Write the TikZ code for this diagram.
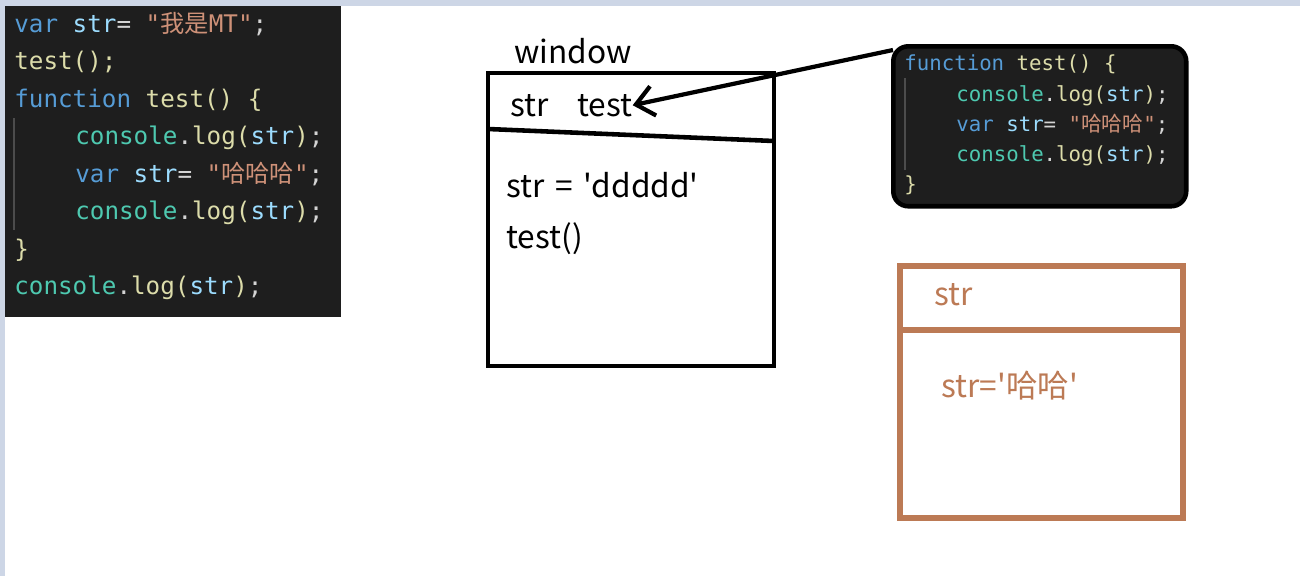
\documentclass[tikz,border=0pt]{standalone}
\usepackage{fontspec}
\setmainfont{Noto Sans CJK SC}
\newfontfamily\codefont{DejaVu Sans Mono}
\newfontfamily\cjk{Noto Sans CJK SC}
\usetikzlibrary{arrows.meta}

\definecolor{codebg}{HTML}{1E1E1E}
\definecolor{kwblue}{HTML}{569CD6}
\definecolor{varblue}{HTML}{9CDCFE}
\definecolor{strred}{HTML}{CE9178}
\definecolor{fnyellow}{HTML}{DCDCAA}
\definecolor{clsteal}{HTML}{4EC9B0}
\definecolor{punct}{HTML}{D4D4D4}
\definecolor{scopebrown}{RGB}{188,122,85}
\definecolor{frameblue}{RGB}{205,214,230}

% colours of the code
\newcommand{\kw}[1]{\textcolor{kwblue}{#1}}
\newcommand{\vb}[1]{\textcolor{varblue}{#1}}
\newcommand{\st}[1]{\textcolor{strred}{#1}}
\newcommand{\fy}[1]{\textcolor{fnyellow}{#1}}
\newcommand{\cl}[1]{\textcolor{clsteal}{#1}}

\tikzset{
  code/.style={anchor=base west, inner sep=0pt, text=punct,
    font=\codefont\fontsize{13.8}{16}\selectfont},
  codesm/.style={code, font=\codefont\fontsize{11.8}{14}\selectfont},
  txt/.style={anchor=base west, inner sep=0pt, font=\fontsize{18}{21}\selectfont},
  bigbox/.style={line width=2.6pt},
  scopebox/.style={line width=3.1pt, draw=scopebrown},
  guide/.style={gray!60!black, line width=0.6pt},
  pointer/.style={line width=2.4pt, -{Straight Barb[length=10pt,width=17pt]}}
}

\begin{document}
\begin{tikzpicture}[x=0.02cm, y=-0.02cm]
    \useasboundingbox (0,0) rectangle (1300,576);
    \fill[white] (0,0) rectangle (1300,576);
    \fill[frameblue] (0,0) rectangle (1300,6);
    \fill[frameblue] (0,0) rectangle (5,576);

    % Codigo a la izquierda
    \fill[codebg] (5,6) rectangle (341,317);
    \draw[guide] (14,118) -- (14,230);
    \node[code] (l1) at (14,32) {\kw{var} \vb{str}= \st{"{\cjk 我是}MT"};};
    \node[code] (l2) at (14,69.5) {\fy{test();}};
    \node[code] (l3) at (14,107) {\kw{function} \fy{test() \{}};
    \node[code] (l4) at (75,144.5) {\cl{console}.\fy{log(}\vb{str}\fy{)};};
    \node[code] (l5) at (75,182) {\kw{var} \vb{str}= \st{"{\cjk 哈哈哈}"};};
    \node[code] (l6) at (75,219.5) {\cl{console}.\fy{log(}\vb{str}\fy{)};};
    \node[code] (l7) at (14,257) {\fy{\}}};
    \node[code] (l8) at (14,294.5) {\cl{console}.\fy{log(}\vb{str}\fy{)};};

    % window
    \draw[bigbox] (488,73) rectangle (774,366);
    \draw[bigbox] (488,129) -- (774,141);
    \node[txt] (win) at (514,63) {window};
    \node[txt] (wstr) at (510,116) {str};
    \node[txt] (wtest) at (577,116) {test};
    \node[txt] (wval) at (506,197) {str\hspace{0.33em}=\hspace{0.33em}\textquotesingle ddddd\textquotesingle};
    \node[txt] (wcall) at (506,248) {test()};

    % funcion test
    \node[draw, bigbox, fill=codebg, rounded corners=0.3cm, anchor=north west,
          minimum width=5.86cm, minimum height=3.2cm, inner sep=0pt] (fnbox) at (891,44) {};
    \draw[guide] (905,78) -- (905,170);
    \node[codesm] (f1) at (904,70) {\kw{function} \fy{test() \{}};
    \node[codesm] (f2) at (956,101) {\cl{console}.\fy{log(}\vb{str}\fy{)};};
    \node[codesm] (f3) at (956,131) {\kw{var} \vb{str}= \st{"{\cjk 哈哈哈}"};};
    \node[codesm] (f4) at (956,161) {\cl{console}.\fy{log(}\vb{str}\fy{)};};
    \node[codesm] (f5) at (904,191) {\fy{\}}};

    \draw[pointer] ([shift={(2,6)}]fnbox.north west) -- (wtest.east);

    % ambito de test
    \draw[scopebox] (900,266) rectangle (1183,518);
    \draw[scopebox] (900,330) -- (1183,330);
    \node[txt, text=scopebrown] (sstr) at (934,305) {str};
    \node[txt, text=scopebrown] (sval) at (941,397) {str=\textquotesingle 哈哈\textquotesingle};
\end{tikzpicture}
\end{document}
